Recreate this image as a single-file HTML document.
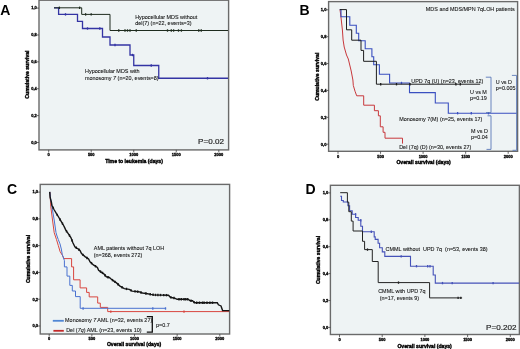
<!DOCTYPE html>
<html><head><meta charset="utf-8"><style>
html,body{margin:0;padding:0;background:#fff;}
body{width:520px;height:349px;overflow:hidden;}
svg{display:block;will-change:transform;filter:blur(0.3px);}
text{font-family:"Liberation Sans", sans-serif;white-space:pre;}
.tk{font-size:4px;fill:#000;font-weight:bold;stroke:#000;stroke-width:0.3px;}
.ax{font-size:5.1px;font-weight:bold;fill:#000;stroke:#000;stroke-width:0.38px;}
.an{font-size:5.44px;fill:#111;stroke:#111;stroke-width:0.08px;}
.pv{font-size:8.1px;fill:#222;stroke:#222;stroke-width:0.18px;}
.lt{font-size:14px;font-weight:bold;fill:#000;}
</style></head><body>
<svg width="520" height="349" viewBox="0 0 520 349">
<rect width="520" height="349" fill="#fff"/>
<rect x="39" y="0.2" width="189.6" height="149.7" fill="#eef3f4" stroke="#6a6a6a" stroke-width="1.4"/>
<line x1="48.7" y1="149.9" x2="48.7" y2="152.4" stroke="#444" stroke-width="0.8"/>
<text x="48.7" y="156.2" class="tk" text-anchor="middle">0</text>
<line x1="91.22" y1="149.9" x2="91.22" y2="152.4" stroke="#444" stroke-width="0.8"/>
<text x="91.22" y="156.2" class="tk" text-anchor="middle">500</text>
<line x1="133.75" y1="149.9" x2="133.75" y2="152.4" stroke="#444" stroke-width="0.8"/>
<text x="133.75" y="156.2" class="tk" text-anchor="middle">1000</text>
<line x1="176.27" y1="149.9" x2="176.27" y2="152.4" stroke="#444" stroke-width="0.8"/>
<text x="176.27" y="156.2" class="tk" text-anchor="middle">1500</text>
<line x1="218.8" y1="149.9" x2="218.8" y2="152.4" stroke="#444" stroke-width="0.8"/>
<text x="218.8" y="156.2" class="tk" text-anchor="middle">2000</text>
<line x1="36.8" y1="142.5" x2="39" y2="142.5" stroke="#444" stroke-width="0.8"/>
<text x="36.8" y="143.8" class="tk" text-anchor="end">0,0</text>
<line x1="36.8" y1="115.62" x2="39" y2="115.62" stroke="#444" stroke-width="0.8"/>
<text x="36.8" y="116.92" class="tk" text-anchor="end">0,2</text>
<line x1="36.8" y1="88.74" x2="39" y2="88.74" stroke="#444" stroke-width="0.8"/>
<text x="36.8" y="90.04" class="tk" text-anchor="end">0,4</text>
<line x1="36.8" y1="61.86" x2="39" y2="61.86" stroke="#444" stroke-width="0.8"/>
<text x="36.8" y="63.16" class="tk" text-anchor="end">0,6</text>
<line x1="36.8" y1="34.98" x2="39" y2="34.98" stroke="#444" stroke-width="0.8"/>
<text x="36.8" y="36.28" class="tk" text-anchor="end">0,8</text>
<line x1="36.8" y1="8.1" x2="39" y2="8.1" stroke="#444" stroke-width="0.8"/>
<text x="36.8" y="9.4" class="tk" text-anchor="end">1,0</text>
<text x="0" y="0" class="ax" text-anchor="middle" transform="translate(28.8,74.6) rotate(-90)">Cumulative survival</text>
<text x="134" y="162.6" class="ax" text-anchor="middle">Time to leukemia (days)</text>
<path d="M54,7.8 H58.6 V14.4 H77.5 V21.3 H82.5 V28.5 H102.5 V37 H110 V45 H130 V55 H133.75 V65.5 H158.75 V78.25 H228" fill="none" stroke="#3434a4" stroke-width="1.3" stroke-linejoin="miter"/>
<line x1="65.5" y1="13.2" x2="65.5" y2="15.6" stroke="#3434a4" stroke-width="1.3"/>
<line x1="87.5" y1="27.3" x2="87.5" y2="29.7" stroke="#3434a4" stroke-width="1.3"/>
<line x1="99.8" y1="27.3" x2="99.8" y2="29.7" stroke="#3434a4" stroke-width="1.3"/>
<line x1="115" y1="43.8" x2="115" y2="46.2" stroke="#3434a4" stroke-width="1.3"/>
<line x1="132.5" y1="53.8" x2="132.5" y2="56.2" stroke="#3434a4" stroke-width="1.3"/>
<line x1="151.25" y1="64.3" x2="151.25" y2="66.7" stroke="#3434a4" stroke-width="1.3"/>
<line x1="207.5" y1="77.05" x2="207.5" y2="79.45" stroke="#3434a4" stroke-width="1.3"/>
<path d="M54,7.8 H81.7 V14.4 H110 V30.5 H228" fill="none" stroke="#1e2b1e" stroke-width="1.0" stroke-linejoin="miter"/>
<line x1="59.4" y1="6.6" x2="59.4" y2="9" stroke="#1e2b1e" stroke-width="1.3"/>
<line x1="79.6" y1="6.6" x2="79.6" y2="9" stroke="#1e2b1e" stroke-width="1.3"/>
<line x1="85.6" y1="13.2" x2="85.6" y2="15.6" stroke="#1e2b1e" stroke-width="1.3"/>
<line x1="91.2" y1="13.2" x2="91.2" y2="15.6" stroke="#1e2b1e" stroke-width="1.3"/>
<line x1="118.75" y1="29.3" x2="118.75" y2="31.7" stroke="#1e2b1e" stroke-width="1.3"/>
<line x1="125" y1="29.3" x2="125" y2="31.7" stroke="#1e2b1e" stroke-width="1.3"/>
<line x1="127.5" y1="29.3" x2="127.5" y2="31.7" stroke="#1e2b1e" stroke-width="1.3"/>
<line x1="130" y1="29.3" x2="130" y2="31.7" stroke="#1e2b1e" stroke-width="1.3"/>
<line x1="136.25" y1="29.3" x2="136.25" y2="31.7" stroke="#1e2b1e" stroke-width="1.3"/>
<line x1="167.5" y1="29.3" x2="167.5" y2="31.7" stroke="#1e2b1e" stroke-width="1.3"/>
<line x1="171.3" y1="29.3" x2="171.3" y2="31.7" stroke="#1e2b1e" stroke-width="1.3"/>
<line x1="173.6" y1="29.3" x2="173.6" y2="31.7" stroke="#1e2b1e" stroke-width="1.3"/>
<line x1="178.5" y1="29.3" x2="178.5" y2="31.7" stroke="#1e2b1e" stroke-width="1.3"/>
<line x1="181.4" y1="29.3" x2="181.4" y2="31.7" stroke="#1e2b1e" stroke-width="1.3"/>
<line x1="198.75" y1="29.3" x2="198.75" y2="31.7" stroke="#1e2b1e" stroke-width="1.3"/>
<line x1="201.25" y1="29.3" x2="201.25" y2="31.7" stroke="#1e2b1e" stroke-width="1.3"/>
<text x="0" y="0" class="an" text-anchor="start" transform="translate(135.2,18.6) scale(1,1.1)" >Hypocellular MDS without</text>
<text x="0" y="0" class="an" text-anchor="start" transform="translate(135.2,25.4) scale(1,1.1)" >del(7) (n=22, events=3)</text>
<text x="0" y="0" class="an" text-anchor="start" transform="translate(85,72.7) scale(1,1.1)" >Hypocellular MDS with</text>
<text x="0" y="0" class="an" text-anchor="start" transform="translate(85,80) scale(1,1.1)" >monosomy <tspan font-style="italic">7</tspan> (n=20, events=8)</text>
<text x="224" y="144.2" class="pv" text-anchor="end" >P=0.02</text>
<rect x="328.6" y="1.6" width="189" height="149.7" fill="#eef3f4" stroke="#6a6a6a" stroke-width="1.4"/>
<line x1="338" y1="151.3" x2="338" y2="153.8" stroke="#444" stroke-width="0.8"/>
<text x="338" y="157.6" class="tk" text-anchor="middle">0</text>
<line x1="380.55" y1="151.3" x2="380.55" y2="153.8" stroke="#444" stroke-width="0.8"/>
<text x="380.55" y="157.6" class="tk" text-anchor="middle">500</text>
<line x1="423.1" y1="151.3" x2="423.1" y2="153.8" stroke="#444" stroke-width="0.8"/>
<text x="423.1" y="157.6" class="tk" text-anchor="middle">1000</text>
<line x1="465.65" y1="151.3" x2="465.65" y2="153.8" stroke="#444" stroke-width="0.8"/>
<text x="465.65" y="157.6" class="tk" text-anchor="middle">1500</text>
<line x1="508.2" y1="151.3" x2="508.2" y2="153.8" stroke="#444" stroke-width="0.8"/>
<text x="508.2" y="157.6" class="tk" text-anchor="middle">2000</text>
<line x1="326.4" y1="144.2" x2="328.6" y2="144.2" stroke="#444" stroke-width="0.8"/>
<text x="326.4" y="145.5" class="tk" text-anchor="end">0,0</text>
<line x1="326.4" y1="117.32" x2="328.6" y2="117.32" stroke="#444" stroke-width="0.8"/>
<text x="326.4" y="118.62" class="tk" text-anchor="end">0,2</text>
<line x1="326.4" y1="90.44" x2="328.6" y2="90.44" stroke="#444" stroke-width="0.8"/>
<text x="326.4" y="91.74" class="tk" text-anchor="end">0,4</text>
<line x1="326.4" y1="63.56" x2="328.6" y2="63.56" stroke="#444" stroke-width="0.8"/>
<text x="326.4" y="64.86" class="tk" text-anchor="end">0,6</text>
<line x1="326.4" y1="36.68" x2="328.6" y2="36.68" stroke="#444" stroke-width="0.8"/>
<text x="326.4" y="37.98" class="tk" text-anchor="end">0,8</text>
<line x1="326.4" y1="9.8" x2="328.6" y2="9.8" stroke="#444" stroke-width="0.8"/>
<text x="326.4" y="11.1" class="tk" text-anchor="end">1,0</text>
<text x="0" y="0" class="ax" text-anchor="middle" transform="translate(319,76.7) rotate(-90)">Cumulative survival</text>
<text x="423.6" y="164.4" class="ax" text-anchor="middle">Overall survival (days)</text>
<path d="M340,9.6 L340.6,14 L341.5,22 L342.4,30 L343.1,40 L344.2,47 L346.5,55 L348.3,59 L351.2,71 L352.9,80 L353.3,85.4 L355,91.2 L356.7,95.8 H363.7 V105.2 H374.4 V110.7 H378.4 V115.8 H380.3 V126.8 H383.1 V132.3 H385 V138.2 H402.5 V143.6" fill="none" stroke="#c8383c" stroke-width="1.0" stroke-linejoin="miter"/>
<path d="M339.8,9.6 H341 V16.8 H349.8 V25.2 H356.3 V33.3 H358.7 V40.8 H365.2 V48.7 H371.9 V56.7 H373.7 V64.8 H379.4 V74.3 H389.6 V83 H409.5 V92.6 H435.3 V103 H448.3 V113.2 H517" fill="none" stroke="#3a4fc0" stroke-width="1.1" stroke-linejoin="miter"/>
<line x1="401.5" y1="81.8" x2="401.5" y2="84.2" stroke="#3a4fc0" stroke-width="1.3"/>
<line x1="457.6" y1="112" x2="457.6" y2="114.4" stroke="#3a4fc0" stroke-width="1.3"/>
<line x1="471.3" y1="112" x2="471.3" y2="114.4" stroke="#3a4fc0" stroke-width="1.3"/>
<line x1="488.5" y1="112" x2="488.5" y2="114.4" stroke="#3a4fc0" stroke-width="1.3"/>
<path d="M339.8,9.6 H346.5 V29.8 H351.7 V40.2 H361 V50.4 H363.6 V61.3 H376.4 V84.2 H480.2" fill="none" stroke="#1c1c1c" stroke-width="1.0" stroke-linejoin="miter"/>
<line x1="380.7" y1="83" x2="380.7" y2="85.4" stroke="#1c1c1c" stroke-width="1.3"/>
<line x1="396.5" y1="83" x2="396.5" y2="85.4" stroke="#1c1c1c" stroke-width="1.3"/>
<line x1="410" y1="83" x2="410" y2="85.4" stroke="#1c1c1c" stroke-width="1.3"/>
<line x1="455.9" y1="83" x2="455.9" y2="85.4" stroke="#1c1c1c" stroke-width="1.3"/>
<line x1="460.3" y1="83" x2="460.3" y2="85.4" stroke="#1c1c1c" stroke-width="1.3"/>
<text x="0" y="0" class="an" text-anchor="end" transform="translate(514.8,10.8) scale(1,1.1)" >MDS and MDS/MPN 7qLOH patients</text>
<text x="0" y="0" class="an" text-anchor="start" transform="translate(411.3,82.6) scale(1,1.1)" >UPD 7q (U) (n=23, events 12)</text>
<text x="0" y="0" class="an" text-anchor="start" transform="translate(470,93.6) scale(1,1.1)" >U vs M</text>
<text x="0" y="0" class="an" text-anchor="start" transform="translate(470,99.9) scale(1,1.1)" >p=0.19</text>
<text x="0" y="0" class="an" text-anchor="start" transform="translate(399.2,121.2) scale(1,1.1)" >Monosomy 7(M) (n=25, events 17)</text>
<text x="0" y="0" class="an" text-anchor="start" transform="translate(471,133) scale(1,1.1)" >M vs D</text>
<text x="0" y="0" class="an" text-anchor="start" transform="translate(471,139.3) scale(1,1.1)" >p=0.04</text>
<text x="0" y="0" class="an" text-anchor="start" transform="translate(399.2,149) scale(1,1.1)" >Del (7q) (D) (n=30, events 27)</text>
<text x="0" y="0" class="an" text-anchor="start" transform="translate(495.7,83.6) scale(1,1.1)" >U vs D</text>
<text x="0" y="0" class="an" text-anchor="start" transform="translate(495.7,89.8) scale(1,1.1)" >p=0.005</text>
<path d="M485.8,77.2 H491 V112.6 H486" fill="none" stroke="#5a78b8" stroke-width="0.9" stroke-linejoin="miter"/>
<path d="M487.5,115.8 H491 V149.4 H486.5" fill="none" stroke="#5a78b8" stroke-width="0.9" stroke-linejoin="miter"/>
<path d="M511.9,75.4 H516.6 V150.3 H512.5" fill="none" stroke="#5a78b8" stroke-width="0.9" stroke-linejoin="miter"/>
<rect x="40.2" y="184.4" width="189.4" height="149.6" fill="#eef3f4" stroke="#6a6a6a" stroke-width="1.4"/>
<line x1="49.2" y1="334" x2="49.2" y2="336.5" stroke="#444" stroke-width="0.8"/>
<text x="49.2" y="340.3" class="tk" text-anchor="middle">0</text>
<line x1="91.85" y1="334" x2="91.85" y2="336.5" stroke="#444" stroke-width="0.8"/>
<text x="91.85" y="340.3" class="tk" text-anchor="middle">500</text>
<line x1="134.5" y1="334" x2="134.5" y2="336.5" stroke="#444" stroke-width="0.8"/>
<text x="134.5" y="340.3" class="tk" text-anchor="middle">1000</text>
<line x1="177.15" y1="334" x2="177.15" y2="336.5" stroke="#444" stroke-width="0.8"/>
<text x="177.15" y="340.3" class="tk" text-anchor="middle">1500</text>
<line x1="219.8" y1="334" x2="219.8" y2="336.5" stroke="#444" stroke-width="0.8"/>
<text x="219.8" y="340.3" class="tk" text-anchor="middle">2000</text>
<line x1="38" y1="326" x2="40.2" y2="326" stroke="#444" stroke-width="0.8"/>
<text x="38" y="327.3" class="tk" text-anchor="end">0,0</text>
<line x1="38" y1="299.22" x2="40.2" y2="299.22" stroke="#444" stroke-width="0.8"/>
<text x="38" y="300.52" class="tk" text-anchor="end">0,2</text>
<line x1="38" y1="272.44" x2="40.2" y2="272.44" stroke="#444" stroke-width="0.8"/>
<text x="38" y="273.74" class="tk" text-anchor="end">0,4</text>
<line x1="38" y1="245.66" x2="40.2" y2="245.66" stroke="#444" stroke-width="0.8"/>
<text x="38" y="246.96" class="tk" text-anchor="end">0,6</text>
<line x1="38" y1="218.88" x2="40.2" y2="218.88" stroke="#444" stroke-width="0.8"/>
<text x="38" y="220.18" class="tk" text-anchor="end">0,8</text>
<line x1="38" y1="192.1" x2="40.2" y2="192.1" stroke="#444" stroke-width="0.8"/>
<text x="38" y="193.4" class="tk" text-anchor="end">1,0</text>
<text x="0" y="0" class="ax" text-anchor="middle" transform="translate(30.1,259) rotate(-90)">Cumulative survival</text>
<text x="134.1" y="346.3" class="ax" text-anchor="middle">Overall survival (days)</text>
<path d="M50,192.2 L50.4,200 L50.8,206.9 L52.5,220 L54.2,232.7 L56.5,239.6 L58.3,245.5 L60.1,251.6 L62.5,255.5 L63.9,258.6 H71.6 V266.9 H73.6 V279.8 H80.1 V287.9 H86.6 V292.4 H89.2 V296.9 H97.7 V303.1 H100.3 V307.4 H107.7 V311.6 H229" fill="none" stroke="#d8453e" stroke-width="1.0" stroke-linejoin="miter"/>
<line x1="110.8" y1="310.4" x2="110.8" y2="312.8" stroke="#d8453e" stroke-width="1.3"/>
<line x1="184" y1="310.4" x2="184" y2="312.8" stroke="#d8453e" stroke-width="1.3"/>
<path d="M49.8,191.9 L50.5,198 L52.1,207.7 L54.2,220 L56,232.7 L57,236 L58.3,239.6 L60,243.9 L61.3,249 L62.3,254.6 L63.5,258 L64.4,260.6 V266.9 H67 V276.1 H69.8 V285.4 H72.3 V291 H75.5 V296.6 H80.2 V308.3 H166.1" fill="none" stroke="#4a72d0" stroke-width="1.0" stroke-linejoin="miter"/>
<line x1="83.1" y1="307.3" x2="83.1" y2="309.7" stroke="#4a72d0" stroke-width="1.3"/>
<line x1="152.8" y1="307.3" x2="152.8" y2="309.7" stroke="#4a72d0" stroke-width="1.3"/>
<line x1="165.5" y1="307.3" x2="165.5" y2="309.7" stroke="#4a72d0" stroke-width="1.3"/>
<path d="M49.7,191.9 L50.1,197.5 L51.4,202.2 L51.9,205.2 L54,209.5 L56.6,213.8 L58,216 L61,221.2 L63.6,225.5 L64.9,228.1 L65.8,230.2 L67.9,233.2 L70.9,237.5 L73,243 L75,247 L77.5,248.5 L80,250.5 L81.5,253.5 L85,256.6 L88.6,259 L90,261.7 L93.4,264.9 L97.4,267.4 L98.6,270.3 L103.8,273.8 L106.4,276.8 L109.3,277.5 L111.4,279.3 L113.9,281.1 L116.5,282.9 L120,286.1 L124.3,288.6 L129.3,289.3 L132.2,291.1 L138.7,291.7 L142.5,293 L146.3,293.5 L150.7,294.4 L153.6,294.9 L168.5,295.2 L170.4,297.3 L175.2,298.3 L177.1,299.3 L188.2,299.3 L189.8,300.6 L192.5,300.8 L194.6,302.7 L217.3,302.7 L218.4,304.8 L221,305.9 L222.6,310.6 L229.2,310.6" fill="none" stroke="#151515" stroke-width="1.4" stroke-linejoin="miter"/>
<line x1="53.2" y1="206.66" x2="53.2" y2="209.06" stroke="#151515" stroke-width="1.4"/>
<line x1="57.3" y1="213.7" x2="57.3" y2="216.1" stroke="#151515" stroke-width="1.4"/>
<line x1="60" y1="218.27" x2="60" y2="220.67" stroke="#151515" stroke-width="1.4"/>
<line x1="62.5" y1="222.48" x2="62.5" y2="224.88" stroke="#151515" stroke-width="1.4"/>
<line x1="66.5" y1="230" x2="66.5" y2="232.4" stroke="#151515" stroke-width="1.4"/>
<line x1="69.5" y1="234.29" x2="69.5" y2="236.69" stroke="#151515" stroke-width="1.4"/>
<line x1="72" y1="239.18" x2="72" y2="241.58" stroke="#151515" stroke-width="1.4"/>
<line x1="76.3" y1="246.58" x2="76.3" y2="248.98" stroke="#151515" stroke-width="1.4"/>
<line x1="79" y1="248.5" x2="79" y2="250.9" stroke="#151515" stroke-width="1.4"/>
<line x1="83" y1="253.63" x2="83" y2="256.03" stroke="#151515" stroke-width="1.4"/>
<line x1="87" y1="256.73" x2="87" y2="259.13" stroke="#151515" stroke-width="1.4"/>
<line x1="91.5" y1="261.91" x2="91.5" y2="264.31" stroke="#151515" stroke-width="1.4"/>
<line x1="95.5" y1="265.01" x2="95.5" y2="267.41" stroke="#151515" stroke-width="1.4"/>
<line x1="100.5" y1="270.38" x2="100.5" y2="272.78" stroke="#151515" stroke-width="1.4"/>
<line x1="102.5" y1="271.73" x2="102.5" y2="274.12" stroke="#151515" stroke-width="1.4"/>
<line x1="105" y1="273.98" x2="105" y2="276.38" stroke="#151515" stroke-width="1.4"/>
<line x1="108" y1="275.99" x2="108" y2="278.39" stroke="#151515" stroke-width="1.4"/>
<line x1="112.5" y1="278.89" x2="112.5" y2="281.29" stroke="#151515" stroke-width="1.4"/>
<line x1="115" y1="280.66" x2="115" y2="283.06" stroke="#151515" stroke-width="1.4"/>
<line x1="118" y1="283.07" x2="118" y2="285.47" stroke="#151515" stroke-width="1.4"/>
<line x1="122" y1="286.06" x2="122" y2="288.46" stroke="#151515" stroke-width="1.4"/>
<line x1="126.5" y1="287.71" x2="126.5" y2="290.11" stroke="#151515" stroke-width="1.4"/>
<line x1="131" y1="289.16" x2="131" y2="291.56" stroke="#151515" stroke-width="1.4"/>
<line x1="135" y1="290.16" x2="135" y2="292.56" stroke="#151515" stroke-width="1.4"/>
<line x1="137.7" y1="290.41" x2="137.7" y2="292.81" stroke="#151515" stroke-width="1.4"/>
<line x1="141" y1="291.29" x2="141" y2="293.69" stroke="#151515" stroke-width="1.4"/>
<line x1="145.9" y1="292.25" x2="145.9" y2="294.65" stroke="#151515" stroke-width="1.4"/>
<line x1="150.2" y1="293.1" x2="150.2" y2="295.5" stroke="#151515" stroke-width="1.4"/>
<line x1="153.1" y1="293.61" x2="153.1" y2="296.01" stroke="#151515" stroke-width="1.4"/>
<line x1="155.5" y1="293.74" x2="155.5" y2="296.14" stroke="#151515" stroke-width="1.4"/>
<line x1="157.9" y1="293.79" x2="157.9" y2="296.19" stroke="#151515" stroke-width="1.4"/>
<line x1="160.5" y1="293.84" x2="160.5" y2="296.24" stroke="#151515" stroke-width="1.4"/>
<line x1="163.7" y1="293.9" x2="163.7" y2="296.3" stroke="#151515" stroke-width="1.4"/>
<line x1="166.5" y1="293.96" x2="166.5" y2="296.36" stroke="#151515" stroke-width="1.4"/>
<line x1="170.9" y1="296.2" x2="170.9" y2="298.6" stroke="#151515" stroke-width="1.4"/>
<line x1="174" y1="296.85" x2="174" y2="299.25" stroke="#151515" stroke-width="1.4"/>
<line x1="179" y1="298.1" x2="179" y2="300.5" stroke="#151515" stroke-width="1.4"/>
<line x1="181.3" y1="298.1" x2="181.3" y2="300.5" stroke="#151515" stroke-width="1.4"/>
<line x1="184" y1="298.1" x2="184" y2="300.5" stroke="#151515" stroke-width="1.4"/>
<line x1="185.6" y1="298.1" x2="185.6" y2="300.5" stroke="#151515" stroke-width="1.4"/>
<line x1="187.5" y1="298.1" x2="187.5" y2="300.5" stroke="#151515" stroke-width="1.4"/>
<line x1="191" y1="299.49" x2="191" y2="301.89" stroke="#151515" stroke-width="1.4"/>
<line x1="194" y1="300.96" x2="194" y2="303.36" stroke="#151515" stroke-width="1.4"/>
<line x1="196.7" y1="301.5" x2="196.7" y2="303.9" stroke="#151515" stroke-width="1.4"/>
<line x1="199.5" y1="301.5" x2="199.5" y2="303.9" stroke="#151515" stroke-width="1.4"/>
<line x1="202.5" y1="301.5" x2="202.5" y2="303.9" stroke="#151515" stroke-width="1.4"/>
<line x1="204.1" y1="301.5" x2="204.1" y2="303.9" stroke="#151515" stroke-width="1.4"/>
<line x1="207" y1="301.5" x2="207" y2="303.9" stroke="#151515" stroke-width="1.4"/>
<line x1="209.9" y1="301.5" x2="209.9" y2="303.9" stroke="#151515" stroke-width="1.4"/>
<line x1="212.5" y1="301.5" x2="212.5" y2="303.9" stroke="#151515" stroke-width="1.4"/>
<text x="0" y="0" class="an" text-anchor="start" transform="translate(93.8,250.1) scale(1,1.1)" >AML patients without 7q LOH</text>
<text x="0" y="0" class="an" text-anchor="start" transform="translate(93.8,256.8) scale(1,1.1)" >(n=368, events 272)</text>
<line x1="52.8" y1="320.8" x2="63.8" y2="320.8" stroke="#4f86d4" stroke-width="1.8"/>
<line x1="53.4" y1="330.8" x2="63.8" y2="330.8" stroke="#c42a2a" stroke-width="1.8"/>
<text x="0" y="0" class="an" text-anchor="start" transform="translate(65.1,322.3) scale(1,1.1)" >Monosomy <tspan font-style="italic">7</tspan> AML (n=32, events 27)</text>
<text x="0" y="0" class="an" text-anchor="start" transform="translate(66.2,331.7) scale(1,1.1)" >Del (<tspan font-style="italic">7q</tspan>) AML (n=23, events 10)</text>
<path d="M146.8,316.6 H152.3 V332.2 H146.8" fill="none" stroke="#111" stroke-width="1.3" stroke-linejoin="miter"/>
<text x="0" y="0" class="an" text-anchor="start" transform="translate(156,327.1) scale(1,1.1)" >p=0.7</text>
<rect x="330.4" y="185.3" width="189" height="149.2" fill="#eef3f4" stroke="#6a6a6a" stroke-width="1.4"/>
<line x1="339.5" y1="334.5" x2="339.5" y2="337" stroke="#444" stroke-width="0.8"/>
<text x="339.5" y="340.8" class="tk" text-anchor="middle">0</text>
<line x1="382.2" y1="334.5" x2="382.2" y2="337" stroke="#444" stroke-width="0.8"/>
<text x="382.2" y="340.8" class="tk" text-anchor="middle">500</text>
<line x1="424.9" y1="334.5" x2="424.9" y2="337" stroke="#444" stroke-width="0.8"/>
<text x="424.9" y="340.8" class="tk" text-anchor="middle">1000</text>
<line x1="467.6" y1="334.5" x2="467.6" y2="337" stroke="#444" stroke-width="0.8"/>
<text x="467.6" y="340.8" class="tk" text-anchor="middle">1500</text>
<line x1="510.3" y1="334.5" x2="510.3" y2="337" stroke="#444" stroke-width="0.8"/>
<text x="510.3" y="340.8" class="tk" text-anchor="middle">2000</text>
<line x1="328.2" y1="327.4" x2="330.4" y2="327.4" stroke="#444" stroke-width="0.8"/>
<text x="328.2" y="328.7" class="tk" text-anchor="end">0,0</text>
<line x1="328.2" y1="300.5" x2="330.4" y2="300.5" stroke="#444" stroke-width="0.8"/>
<text x="328.2" y="301.8" class="tk" text-anchor="end">0,2</text>
<line x1="328.2" y1="273.6" x2="330.4" y2="273.6" stroke="#444" stroke-width="0.8"/>
<text x="328.2" y="274.9" class="tk" text-anchor="end">0,4</text>
<line x1="328.2" y1="246.7" x2="330.4" y2="246.7" stroke="#444" stroke-width="0.8"/>
<text x="328.2" y="248" class="tk" text-anchor="end">0,6</text>
<line x1="328.2" y1="219.8" x2="330.4" y2="219.8" stroke="#444" stroke-width="0.8"/>
<text x="328.2" y="221.1" class="tk" text-anchor="end">0,8</text>
<line x1="328.2" y1="192.9" x2="330.4" y2="192.9" stroke="#444" stroke-width="0.8"/>
<text x="328.2" y="194.2" class="tk" text-anchor="end">1,0</text>
<text x="0" y="0" class="ax" text-anchor="middle" transform="translate(320.4,260) rotate(-90)">Cumulative survival</text>
<text x="424.6" y="347.6" class="ax" text-anchor="middle">Overall survival (days)</text>
<path d="M340.2,196.2 H341.5 V200.5 H343.3 V202 H347.9 V205.7 H349.6 V210.8 H352.2 V214.3 H355.6 V217.5 H358.2 V220.3 H360.8 V226.3 H362.5 V231.7 H374.2 V236.9 H375.2 V239.4 H378.1 V243.3 H379.6 V247.7 H382.3 V251.9 H384.8 V256.4 H410.5 V266.2 H433.2 V275 H435.3 V283.1 H519" fill="none" stroke="#4552b8" stroke-width="1.1" stroke-linejoin="miter"/>
<line x1="355.6" y1="213.1" x2="355.6" y2="215.5" stroke="#4552b8" stroke-width="1.3"/>
<line x1="360.8" y1="219.1" x2="360.8" y2="221.5" stroke="#4552b8" stroke-width="1.3"/>
<line x1="371.3" y1="230.5" x2="371.3" y2="232.9" stroke="#4552b8" stroke-width="1.3"/>
<line x1="401.2" y1="255.2" x2="401.2" y2="257.6" stroke="#4552b8" stroke-width="1.3"/>
<line x1="416.5" y1="265" x2="416.5" y2="267.4" stroke="#4552b8" stroke-width="1.3"/>
<line x1="427.7" y1="265" x2="427.7" y2="267.4" stroke="#4552b8" stroke-width="1.3"/>
<line x1="430" y1="265" x2="430" y2="267.4" stroke="#4552b8" stroke-width="1.3"/>
<line x1="442.5" y1="281.9" x2="442.5" y2="284.3" stroke="#4552b8" stroke-width="1.3"/>
<line x1="452.2" y1="281.9" x2="452.2" y2="284.3" stroke="#4552b8" stroke-width="1.3"/>
<line x1="493.1" y1="281.9" x2="493.1" y2="284.3" stroke="#4552b8" stroke-width="1.3"/>
<path d="M340.2,192.7 H347.4 V202.2 H348.8 V211.7 H351.3 V221.1 H353.1 V231 H362.5 V241.3 H364.6 V249.6 H372.3 V261.5 H378.2 V282.6 H429.6 V297.9 H462.1" fill="none" stroke="#222" stroke-width="1.0" stroke-linejoin="miter"/>
<line x1="367.5" y1="248.4" x2="367.5" y2="250.8" stroke="#222" stroke-width="1.3"/>
<line x1="398.5" y1="281.4" x2="398.5" y2="283.8" stroke="#222" stroke-width="1.3"/>
<line x1="458.1" y1="296.7" x2="458.1" y2="299.1" stroke="#222" stroke-width="1.3"/>
<line x1="460.8" y1="296.7" x2="460.8" y2="299.1" stroke="#222" stroke-width="1.3"/>
<text x="0" y="0" class="an" text-anchor="start" transform="translate(385.6,250.6) scale(1,1.1)" >CMML without  UPD 7q  (n=53, events 38)</text>
<text x="0" y="0" class="an" text-anchor="start" transform="translate(378.2,292.8) scale(1,1.1)" >CMML with UPD 7q</text>
<text x="0" y="0" class="an" text-anchor="start" transform="translate(379.7,299.7) scale(1,1.1)" >(n=17, events 9)</text>
<text x="516.5" y="330.1" class="pv" text-anchor="end" >P=0.202</text>
<text x="0.2" y="15.4" class="lt" text-anchor="start" >A</text>
<text x="299.6" y="14.8" class="lt" text-anchor="start" >B</text>
<text x="6.9" y="194" class="lt" text-anchor="start" >C</text>
<text x="305.4" y="194.1" class="lt" text-anchor="start" >D</text>
</svg>
</body></html>
